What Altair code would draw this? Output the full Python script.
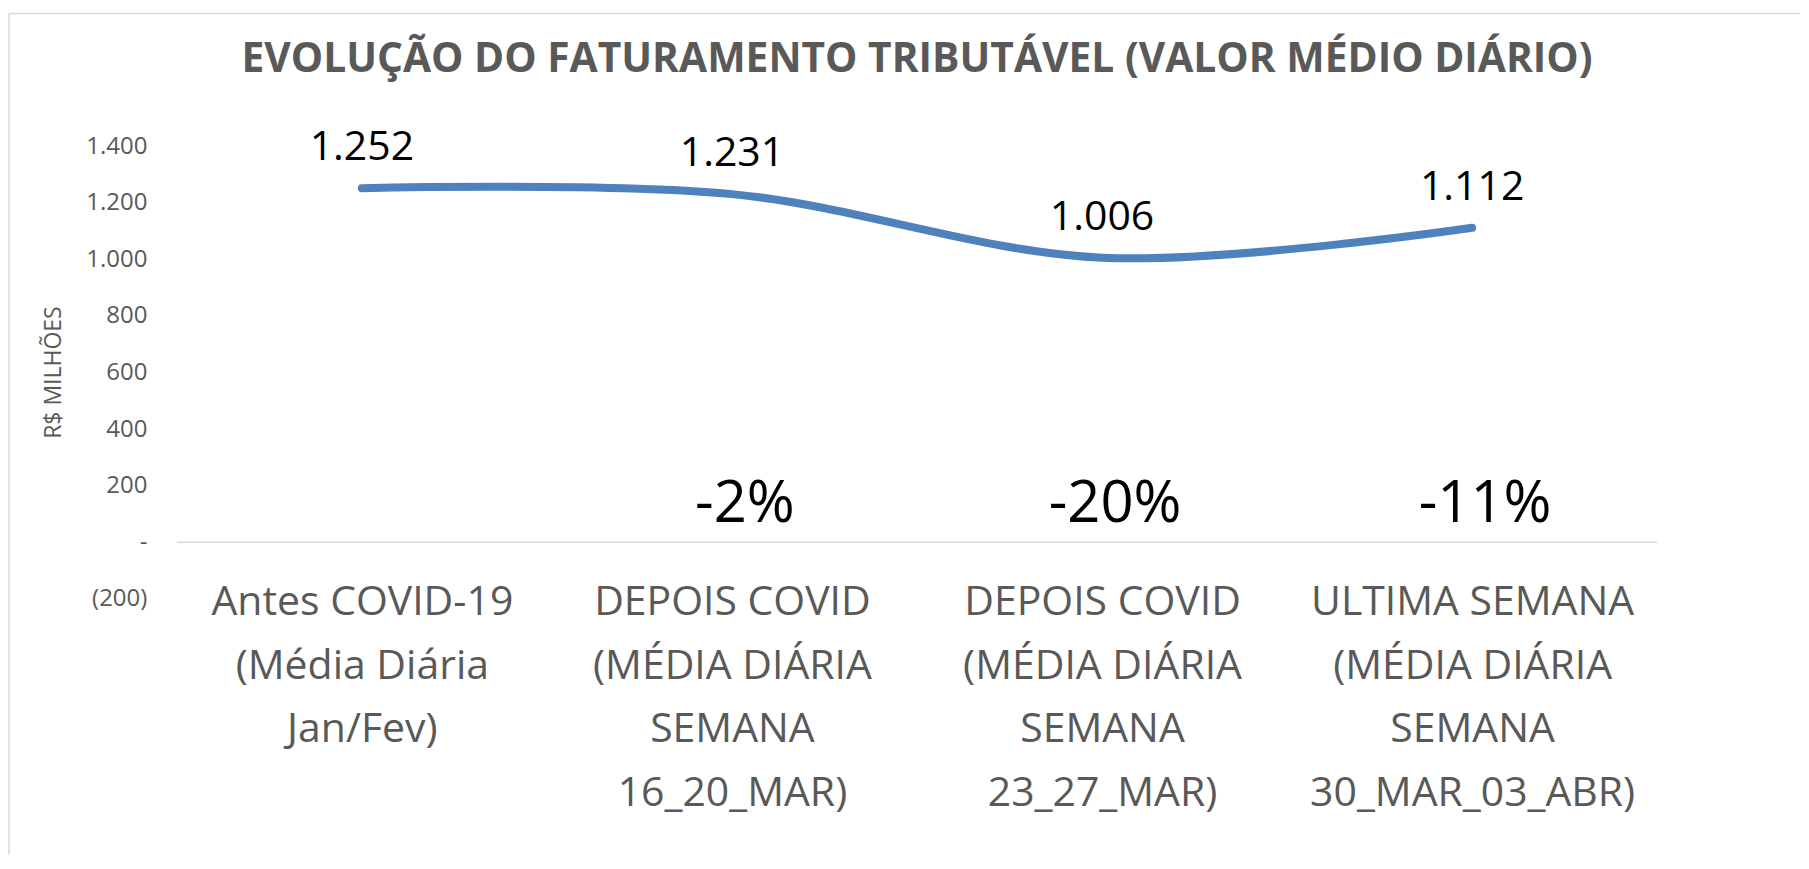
import altair as alt
import pandas as pd

# ---- data ----
title_text = "EVOLUÇÃO DO FATURAMENTO TRIBUTÁVEL (VALOR MÉDIO DIÁRIO)"
y_title = "R$ MILHÕES"
categories = [
    "Antes COVID-19|(Média Diária|Jan/Fev)",
    "DEPOIS COVID|(MÉDIA DIÁRIA|SEMANA|16_20_MAR)",
    "DEPOIS COVID|(MÉDIA DIÁRIA|SEMANA|23_27_MAR)",
    "ULTIMA SEMANA|(MÉDIA DIÁRIA|SEMANA|30_MAR_03_ABR)",
]
values = [1252, 1231, 1006, 1112]
y_ticks = [-200, 0, 200, 400, 600, 800, 1000, 1200, 1400]

value_labels = [f"{v:,}".replace(",", ".") for v in values]
pct_labels = [None] + [f"{round((v / values[0] - 1) * 100)}%" for v in values[1:]]

df = pd.DataFrame({
    "cat": categories,
    "value": values,
    "vlabel": value_labels,
    "pct": pct_labels,
})

FONT = "Open Sans"
GRAY = "#595959"
W, H = 1482, 453

x_enc = alt.X(
    "cat:N",
    sort=categories,
    scale=alt.Scale(type="point", padding=0.5),
    axis=alt.Axis(
        title=None,
        labelExpr="split(datum.label, '|')",
        labelAngle=0,
        labelAlign="center",
        labelFont=FONT,
        labelFontSize=41,
        labelColor=GRAY,
        labelLineHeight=63.5,
        labelBaseline="top",
        labelPadding=-16,
        labelLimit=0,
        labelOverlap=False,
        domain=False,
        ticks=False,
        grid=False,
    ),
)

y_scale = alt.Scale(domain=[-200, 1400], nice=False)
y_axis = alt.Axis(
    values=y_ticks,
    labelExpr=(
        "datum.value == 0 ? '-' : (datum.value < 0 ? "
        "'(' + replace(format(-datum.value, ','), ',', '.') + ')' : "
        "replace(format(datum.value, ','), ',', '.'))"
    ),
    labelFont=FONT,
    labelFontSize=24,
    labelColor=GRAY,
    labelPadding=30,
    domain=False,
    ticks=False,
    grid=False,
    title=y_title,
    titleFont=FONT,
    titleFontSize=23,
    titleFontWeight="normal",
    titleColor=GRAY,
    titleAngle=270,
    titleX=-116,
    titleY=226,
    titleAlign="center",
    titleBaseline="alphabetic",
)
y_enc = alt.Y("value:Q", scale=y_scale, axis=y_axis)

frame_top = alt.Chart(alt.Data(values=[{"k": 1}])).mark_rule(
    color="#D9D9D9", strokeWidth=1.5
).encode(x=alt.value(-168), x2=alt.value(1625), y=alt.value(-133))

frame_left = alt.Chart(alt.Data(values=[{"k": 1}])).mark_rule(
    color="#D9D9D9", strokeWidth=1.5
).encode(x=alt.value(-168), y=alt.value(-133), y2=alt.value(709))

zero_line = alt.Chart(alt.Data(values=[{"value": 0}])).mark_rule(
    color="#D9D9D9", strokeWidth=1.5
).encode(y=y_enc)

line = alt.Chart(df).mark_line(
    interpolate="cardinal", strokeWidth=8, strokeCap="round", color="#4F81BD"
).encode(x=x_enc, y=y_enc)

labels = alt.Chart(df).mark_text(
    font=FONT, fontSize=41, color="black", baseline="middle", dy=-40
).encode(x=x_enc, y=y_enc, text="vlabel:N")

pcts = alt.Chart(df).transform_filter("datum.pct != null").mark_text(
    font=FONT, fontSize=58, color="black", baseline="middle", dx=13, dy=-37
).encode(x=x_enc, y=alt.datum(0), text="pct:N")

chart = alt.layer(frame_top, frame_left, zero_line, line, labels, pcts).properties(
    width=W,
    height=H,
    padding={"left": 0, "top": 4, "right": 0, "bottom": 0},
    background="white",
    title=alt.TitleParams(
        text=title_text,
        font=FONT,
        fontSize=40.8,
        fontWeight="bold",
        color=GRAY,
        anchor="middle",
        frame="group",
        offset=-100,
        baseline="alphabetic",
    ),
).configure_view(stroke=None)

chart.save("out.html", embed_options={"renderer": "svg", "actions": False})
